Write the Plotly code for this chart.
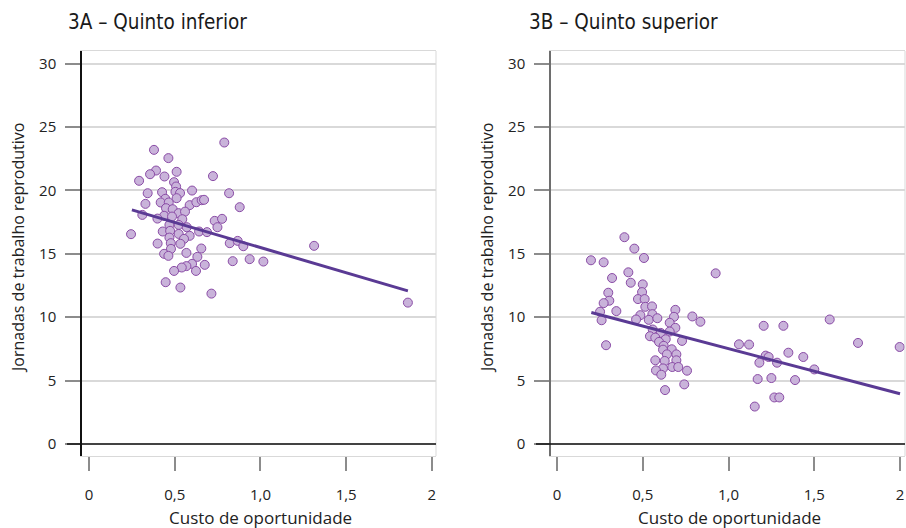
import plotly.graph_objects as go

# ---------------- data ----------------
# Panel 3A - Quinto inferior
a_x = [0.789, 0.379, 0.463, 0.391, 0.356, 0.511, 0.440, 0.723, 0.292, 0.496,
       0.508, 0.342, 0.426, 0.504, 0.531, 0.601, 0.817, 0.511, 0.445, 0.418,
       0.465, 0.329, 0.587, 0.626, 0.657, 0.671, 0.879, 0.449, 0.488, 0.523,
       0.560, 0.311, 0.438, 0.484, 0.399, 0.544, 0.733, 0.776, 0.749, 0.469,
       0.523, 0.570, 0.430, 0.473, 0.523, 0.642, 0.688, 0.245, 0.469, 0.587,
       0.554, 0.821, 0.867, 0.900, 0.400, 0.477, 0.533, 0.478, 0.655, 0.438,
       0.463, 0.568, 0.632, 0.838, 0.937, 1.017, 0.601, 0.568, 0.541, 0.675,
       0.496, 0.624, 0.447, 0.533, 0.714, 1.313, 1.860]
a_y = [23.78, 23.20, 22.55, 21.57, 21.28, 21.47, 21.10, 21.13, 20.76, 20.65,
       20.31, 19.78, 19.86, 19.89, 19.79, 19.99, 19.78, 19.39, 19.34, 19.05,
       19.05, 18.94, 18.84, 19.07, 19.23, 19.26, 18.68, 18.60, 18.52, 18.21,
       18.33, 18.07, 18.00, 17.94, 17.78, 17.73, 17.60, 17.76, 17.10, 17.28,
       17.28, 17.10, 16.76, 16.81, 16.57, 16.76, 16.71, 16.55, 16.28, 16.42,
       16.18, 15.84, 16.02, 15.60, 15.81, 15.84, 15.79, 15.39, 15.42, 15.00,
       14.84, 15.07, 14.76, 14.42, 14.58, 14.39, 14.21, 14.03, 13.92, 14.13,
       13.65, 13.65, 12.76, 12.34, 11.86, 15.63, 11.15]
a_fit_x = [0.25, 1.86]
a_fit_y = [18.47, 12.08]

# Panel 3B - Quinto superior
b_x = [0.393, 0.451, 0.507, 0.198, 0.272, 0.416, 0.925, 0.321, 0.430, 0.500,
       0.496, 0.299, 0.472, 0.511, 0.305, 0.272, 0.515, 0.554, 0.690, 0.346,
       0.251, 0.556, 0.486, 0.789, 0.682, 0.461, 0.535, 0.585, 0.260, 0.836,
       0.657, 0.690, 0.558, 0.657, 0.605, 0.542, 0.573, 0.634, 0.729, 0.595,
       0.622, 0.669, 0.286, 0.618, 0.641, 0.696, 0.573, 0.628, 0.696, 0.672,
       0.707, 0.618, 0.577, 0.758, 0.608, 0.742, 0.630, 1.061,
       1.205, 1.320, 1.590, 1.120, 1.755, 1.998, 1.217, 1.234, 1.349, 1.436,
       1.180, 1.283, 1.500, 1.170, 1.250, 1.388, 1.267, 1.296, 1.153]
b_y = [16.31, 15.41, 14.67, 14.49, 14.33, 13.54, 13.46, 13.09, 12.72, 12.59,
       11.98, 11.93, 11.43, 11.43, 11.30, 11.11, 10.82, 10.85, 10.58, 10.48,
       10.43, 10.24, 10.16, 10.06, 10.03, 9.82, 9.79, 9.92, 9.76, 9.64,
       9.56, 9.16, 9.03, 8.87, 8.76, 8.50, 8.39, 8.26, 8.13, 8.05,
       7.74, 7.47, 7.79, 7.44, 7.07, 7.07, 6.60, 6.55, 6.60, 6.07,
       6.07, 5.96, 5.80, 5.78, 5.46, 4.70, 4.25, 7.86,
       9.32, 9.32, 9.82, 7.84, 7.97, 7.65, 6.97, 6.86, 7.20, 6.86,
       6.41, 6.41, 5.88, 5.12, 5.20, 5.04, 3.67, 3.67, 2.95]
b_fit_x = [0.20, 2.00]
b_fit_y = [10.37, 3.96]

titles = ["3A – Quinto inferior", "3B – Quinto superior"]
y_title = "Jornadas de trabalho reprodutivo"
x_title = "Custo de oportunidade"
x_tickvals = [0, 0.5, 1.0, 1.5, 2.0]
x_ticktext = ["0", "0,5", "1,0", "1,5", "2"]
y_tickvals = [0, 5, 10, 15, 20, 25, 30]

# ---------------- style ----------------
W, H = 906, 528
FILL = "#c9b3da"
EDGE = "#8a4ca6"
LINE = "#5a3a94"
GRID = "#d9d9d9"
TICK = "#8c8c8c"
FONT = "Open Sans"
TFONT = "DejaVu Sans Condensed, Liberation Sans Narrow, Open Sans, sans-serif"

def px(v):
    return v / W

def py(v):
    return 1 - v / H

fig = go.Figure()

for i, (xs, ys, fx, fy) in enumerate([(a_x, a_y, a_fit_x, a_fit_y),
                                      (b_x, b_y, b_fit_x, b_fit_y)]):
    xa = "x" if i == 0 else "x2"
    ya = "y" if i == 0 else "y2"
    fig.add_trace(go.Scatter(x=xs, y=ys, mode="markers", xaxis=xa, yaxis=ya,
                             marker=dict(size=9, color=FILL,
                                         line=dict(color=EDGE, width=1)),
                             showlegend=False, hoverinfo="x+y"))
    fig.add_trace(go.Scatter(x=fx, y=fy, mode="lines", xaxis=xa, yaxis=ya,
                             line=dict(color=LINE, width=3),
                             showlegend=False, hoverinfo="skip"))

panels = [
    dict(left=82, right=436, xr=(-0.041, 2.024), zl=67, ylinecol="#111111",
         ytitle_x=18, title_x=66),
    dict(left=551, right=905, xr=(-0.035, 2.029), zl=536, ylinecol="#6e6e6e",
         ytitle_x=487, title_x=527),
]
top, bottom = 51, 456

for i, p in enumerate(panels):
    sfx = "" if i == 0 else "2"
    fig.update_layout(**{
        "xaxis" + sfx: dict(domain=[px(p["left"]), px(p["right"])],
                            range=list(p["xr"]), anchor="y" + sfx,
                            tickvals=x_tickvals, ticktext=x_ticktext,
                            ticks="outside", ticklen=14, tickcolor=TICK, tickwidth=1.5,
                            showgrid=False, zeroline=False,
                            showline=True, linecolor=GRID, linewidth=1, mirror=True,
                            ticklabelstandoff=11,
                            tickfont=dict(family=FONT, size=15, color="#222"),
                            fixedrange=True),
        "yaxis" + sfx: dict(domain=[py(bottom), py(top)], range=[-0.95, 31.0],
                            anchor="x" + sfx,
                            tickvals=y_tickvals, ticks="outside", ticklen=15,
                            tickcolor=TICK, tickwidth=1.5,
                            showgrid=True, gridcolor=GRID, gridwidth=1.5,
                            zeroline=False, showline=True,
                            linecolor=p["ylinecol"], linewidth=1.5,
                            ticklabelstandoff=6,
                            tickfont=dict(family=FONT, size=15, color="#222"),
                            fixedrange=True),
    })
    # right border of the plot frame
    fig.add_shape(type="line", xref="x" + sfx + " domain", yref="y" + sfx + " domain",
                  x0=1, x1=1, y0=0, y1=1, line=dict(color=GRID, width=1))
    # black zero line extending into the tick area
    fig.add_shape(type="line", xref="paper", yref="y" + sfx,
                  x0=px(p["zl"]), x1=px(p["right"]), y0=0, y1=0,
                  line=dict(color="#111111", width=1.5))
    # panel title
    fig.add_annotation(text=titles[i], xref="paper", yref="paper",
                       x=px(p["title_x"]), y=py(22), xanchor="left", yanchor="middle",
                       showarrow=False,
                       font=dict(family=TFONT, size=20.5, color="#1a1a1a"))
    # y title
    fig.add_annotation(text=y_title, xref="paper", yref="paper",
                       x=px(p["ytitle_x"]), y=py(248), textangle=-90,
                       xanchor="center", yanchor="middle", showarrow=False,
                       font=dict(family=FONT, size=16, color="#222"))
    # x title
    fig.add_annotation(text=x_title, xref="paper", yref="paper",
                       x=px((p["left"] + p["right"]) / 2 + 1), y=py(517),
                       xanchor="center", yanchor="middle", showarrow=False,
                       font=dict(family=FONT, size=17, color="#222"))

fig.update_layout(width=W, height=H, margin=dict(l=0, r=0, t=0, b=0),
                  paper_bgcolor="white", plot_bgcolor="white",
                  showlegend=False)

fig.write_html("out.html")
